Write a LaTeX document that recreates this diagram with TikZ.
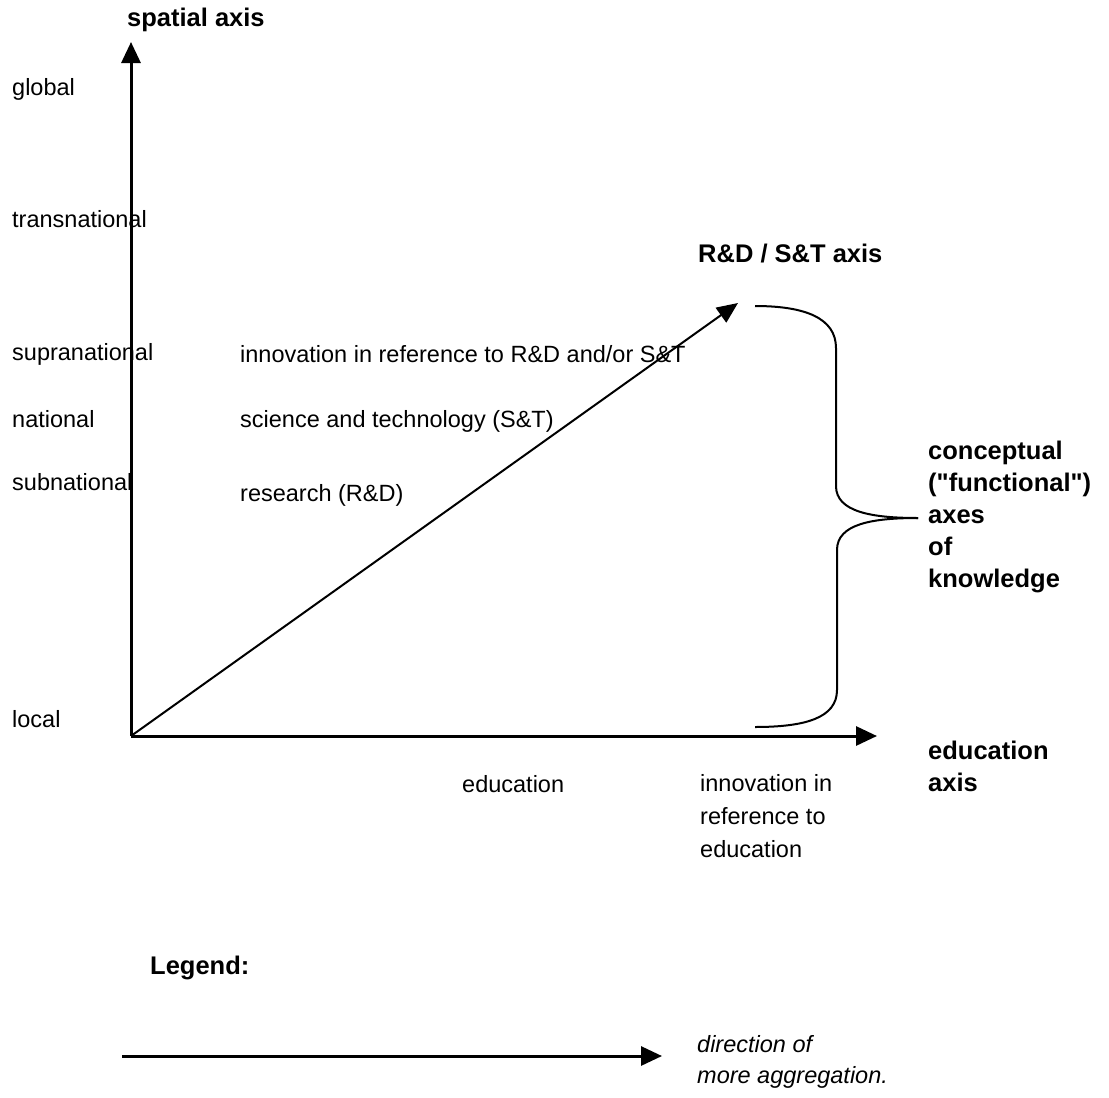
\documentclass[tikz,border=0pt]{standalone}
\usepackage{fontspec}
\setmainfont{Liberation Sans}[Ligatures=TeXOff]
\usetikzlibrary{arrows.meta}

\tikzset{
  lbl/.style={anchor=base west, inner sep=0pt, font=\fontsize{23.5}{33}\selectfont},
  blbl/.style={anchor=base west, inner sep=0pt, font=\fontsize{25.5}{32}\selectfont\bfseries},
  ilbl/.style={anchor=base west, inner sep=0pt, font=\fontsize{23.5}{31}\selectfont\itshape},
  axisline/.style={line width=3pt, -{Triangle[length=21pt,width=19pt]}},
  diagline/.style={line width=2pt, -{Triangle[length=21pt,width=18pt]}},
  bracepath/.style={line width=2pt, line join=round}
}

\begin{document}
\begin{tikzpicture}[x=1pt,y=-1pt]
\useasboundingbox (0,0) rectangle (1109,1098);

% axis labels
\node[blbl] (spatial) at (127,26) {spatial axis};
\node[blbl] (rdst) at (698,262) {R\&D / S\&T axis};
\node[blbl, align=left, anchor=north west] (eduaxis) at (928,741) {education\\axis};
\node[blbl, align=left, anchor=north west] (concept) at (928,441)
  {conceptual\\("functional")\\axes\\of\\knowledge};

% spatial levels
\node[lbl] (global)  at (12,95)  {global};
\node[lbl] (transn)  at (12,227) {transnational};
\node[lbl] (suprn)   at (12,360) {supranational};
\node[lbl] (natl)    at (12,427) {national};
\node[lbl] (subn)    at (12,490) {subnational};
\node[lbl] (local)   at (12,727) {local};

% functional levels along the R&D / S&T axis
\node[lbl] (innrd) at (240,362) {innovation in reference to R\&D and/or S\&T};
\node[lbl] (sci)   at (240,427) {science and technology (S\&T)};
\node[lbl] (res)   at (240,501) {research (R\&D)};

% functional levels along the education axis
\node[lbl] (edu) at (462,792) {education};
\node[lbl, align=left, anchor=north west] (innedu) at (700,774)
  {innovation in\\reference to\\education};

% axes
\coordinate (O) at (131,736);
\coordinate (ytip) at (131,42);
\coordinate (xtip) at (877,736);
\coordinate (dtip) at (738,303);
\draw[axisline] (O) -- (ytip);
\draw[axisline] (O) -- (xtip);
\draw[diagline] (O) -- (dtip);

% curly brace grouping the two conceptual axes
\coordinate (btop) at (755,306);
\coordinate (bbot) at (755,727);
\coordinate (btip) at (918,518);
\draw[bracepath] (btop) .. controls (805,306) and (836,318) .. (836,348)
  -- (836,486) .. controls (836,512) and (872,518) .. (btip);
\draw[bracepath] (btip) .. controls (872,518) and (837,524) .. (837,550)
  -- (837,690) .. controls (837,718) and (805,727) .. (bbot);

% legend
\node[blbl] (legend) at (150,974) {Legend:};
\coordinate (legS) at (122,1056);
\coordinate (legE) at (662,1056);
\draw[axisline] (legS) -- (legE);
\node[ilbl, align=left, anchor=north west] (legtxt) at (697,1035)
  {direction of\\more aggregation.};
\end{tikzpicture}
\end{document}
